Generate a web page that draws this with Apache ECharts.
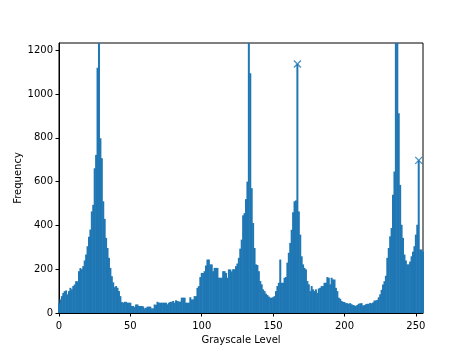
<!DOCTYPE html>
<html>
<head>
<meta charset="utf-8">
<script src="https://cdn.jsdelivr.net/npm/echarts@6/dist/echarts.min.js"></script>
<style>
  html, body { margin: 0; padding: 0; background: #fff; }
  #chart { width: 469px; height: 352px; }
</style>
</head>
<body>
<div id="chart"></div>
<script>
// histogram counts per grayscale level 0..255
const counts = [
  44, 62, 77, 92, 100, 103, 85, 100, 115, 108,
  123, 130, 145, 145, 191, 205, 200, 214, 240, 267,
  305, 348, 381, 464, 494, 661, 722, 1120, 1400, 798,
  707, 510, 430, 343, 297, 252, 206, 168, 140, 118,
  123, 115, 100, 77, 50, 47, 51, 51, 47, 47,
  47, 32, 32, 27, 39, 39, 32, 32, 32, 30,
  21, 24, 29, 29, 29, 21, 21, 39, 37, 51,
  47, 47, 47, 47, 47, 47, 40, 47, 51, 51,
  55, 47, 58, 55, 52, 52, 70, 70, 70, 47,
  47, 47, 72, 62, 62, 77, 77, 115, 123, 164,
  183, 183, 191, 217, 244, 244, 222, 222, 191, 206,
  206, 206, 161, 161, 161, 191, 191, 183, 161, 199,
  199, 190, 200, 200, 214, 226, 252, 294, 335, 446,
  456, 520, 600, 1400, 1095, 570, 411, 297, 222, 219,
  191, 146, 131, 108, 100, 88, 82, 75, 70, 70,
  72, 77, 100, 123, 138, 244, 138, 138, 161, 164,
  230, 275, 320, 380, 460, 510, 514, 1137, 464, 358,
  259, 222, 206, 199, 146, 131, 100, 123, 108, 100,
  108, 92, 112, 115, 123, 123, 138, 138, 164, 161,
  131, 161, 153, 153, 115, 100, 70, 65, 55, 51,
  50, 45, 45, 42, 45, 40, 36, 35, 32, 37,
  42, 44, 45, 34, 36, 40, 42, 42, 46, 44,
  48, 57, 57, 60, 72, 85, 106, 130, 145, 170,
  252, 297, 350, 388, 540, 646, 1300, 1500, 912, 585,
  403, 343, 267, 240, 222, 222, 235, 259, 280, 305,
  358, 403, 697, 290, 290, 280
]
const levels = counts.map((c, i) => i)

// peaks marked with an x
const peakLevels = [167, 252]
const peakCounts = [1137, 697]

const xTicks = [0, 50, 100, 150, 200, 250]
const yTicks = [0, 200, 400, 600, 800, 1000, 1200]

const barColor = '#1f77b4'
const font = 'DejaVu Sans'

const chart = echarts.init(document.getElementById('chart'), null, { renderer: 'canvas' })

chart.setOption({
  animation: false,
  grid: {
    left: 59,
    right: 46,
    top: 43,
    bottom: 39,
    show: true,
    borderColor: '#000',
    borderWidth: 1,
    backgroundColor: 'transparent'
  },
  xAxis: {
    type: 'value',
    min: 0,
    max: 255,
    interval: 50,
    name: 'Grayscale Level',
    nameLocation: 'middle',
    nameGap: 22,
    nameMoveOverlap: false,
    nameTextStyle: { fontFamily: font, fontSize: 10, color: '#000' },
    axisLine: { show: true, lineStyle: { color: '#000', width: 1 } },
    axisTick: { show: true, inside: false, length: 3.5, lineStyle: { color: '#000' } },
    axisLabel: {
      margin: 8,
      fontFamily: font,
      fontSize: 10,
      color: '#000',
      showMaxLabel: false,
      formatter: v => xTicks.includes(v) ? String(v) : ''
    },
    splitLine: { show: false }
  },
  yAxis: {
    type: 'value',
    min: 0,
    max: 1233,
    interval: 200,
    name: 'Frequency',
    nameLocation: 'middle',
    nameRotate: 90,
    nameGap: 36,
    nameMoveOverlap: false,
    nameTextStyle: { fontFamily: font, fontSize: 10, color: '#000' },
    axisLine: { show: true, lineStyle: { color: '#000', width: 1 } },
    axisTick: { show: true, length: 3.5, lineStyle: { color: '#000' } },
    axisLabel: {
      margin: 6,
      fontFamily: font,
      fontSize: 10,
      color: '#000',
      showMaxLabel: false,
      formatter: v => yTicks.includes(v) ? String(v) : ''
    },
    splitLine: { show: false }
  },
  series: [
    {
      type: 'bar',
      data: levels.map((l, i) => [l, counts[i]]),
      barWidth: 2,
      itemStyle: { color: barColor, borderWidth: 0 },
      clip: true,
      z: 2
    },
    {
      type: 'scatter',
      data: peakLevels.map((l, i) => [l, peakCounts[i]]),
      symbol: 'path://M0,0L10,10M10,0L0,10',
      symbolSize: 7,
      itemStyle: { color: 'rgba(0,0,0,0)', borderColor: barColor, borderWidth: 1.4 },
      z: 5
    }
  ]
})
</script>
</body>
</html>
